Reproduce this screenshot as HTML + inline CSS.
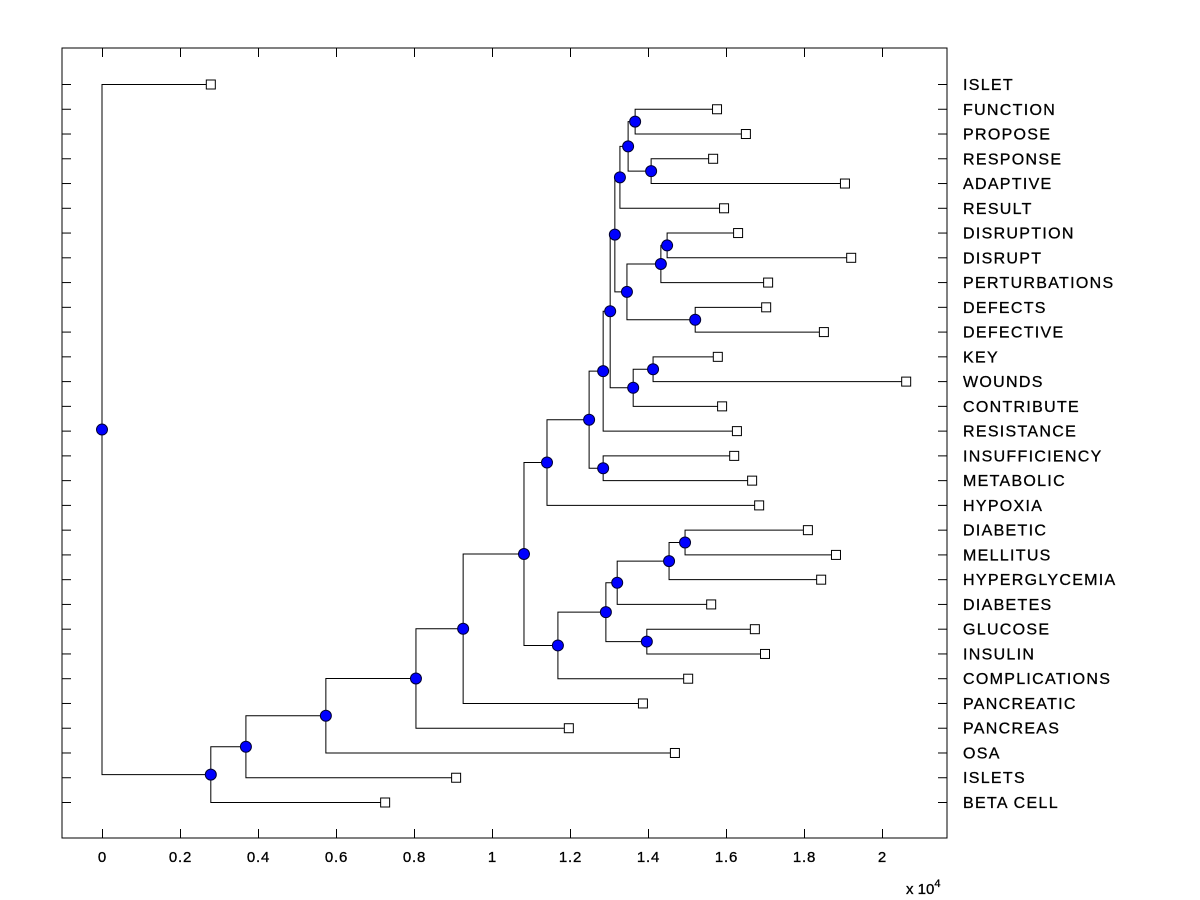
<!DOCTYPE html>
<html><head><meta charset="utf-8"><style>
html,body{margin:0;padding:0;background:#fff;}
svg{display:block;font-family:"Liberation Sans",Arial,sans-serif;}
</style></head><body>
<svg id="chart" width="1200" height="900" viewBox="0 0 1200 900"></svg>
<script>
const leafLabels=["ISLET","FUNCTION","PROPOSE","RESPONSE","ADAPTIVE","RESULT","DISRUPTION","DISRUPT","PERTURBATIONS","DEFECTS","DEFECTIVE","KEY","WOUNDS","CONTRIBUTE","RESISTANCE","INSUFFICIENCY","METABOLIC","HYPOXIA","DIABETIC","MELLITUS","HYPERGLYCEMIA","DIABETES","GLUCOSE","INSULIN","COMPLICATIONS","PANCREATIC","PANCREAS","OSA","ISLETS","BETA CELL"];
const leafValues=[0.279,1.577,1.651,1.567,1.905,1.595,1.631,1.921,1.708,1.703,1.851,1.579,2.062,1.590,1.628,1.621,1.667,1.685,1.810,1.882,1.844,1.562,1.674,1.700,1.503,1.387,1.197,1.469,0.908,0.726];
const mergeLeft=[1,3,30,32,6,34,9,35,33,11,39,38,41,15,42,44,18,46,47,22,48,50,45,52,53,54,55,56,0];
const mergeRight=[2,4,31,5,7,8,10,36,37,12,13,40,14,16,43,17,19,20,21,23,49,24,51,25,26,27,28,29,57];
const mergeHeights=[1.367,1.408,1.349,1.328,1.449,1.433,1.521,1.346,1.315,1.413,1.362,1.303,1.285,1.285,1.249,1.141,1.495,1.454,1.321,1.397,1.292,1.169,1.082,0.926,0.805,0.574,0.369,0.279,0];
const xTicks=[0,0.2,0.4,0.6,0.8,1,1.2,1.4,1.6,1.8,2];
const xTickLabels=["0","0.2","0.4","0.6","0.8","1","1.2","1.4","1.6","1.8","2"];

const NS="http://www.w3.org/2000/svg";
const svg=document.getElementById('chart');
const L=62,R=947,T=48,B=838;
const xs=v=>102+v*390;
const ys=i=>84+i*(802-84)/(leafLabels.length-1);
function mk(tag,attrs,parent){const e=document.createElementNS(NS,tag);for(const k in attrs)e.setAttribute(k,attrs[k]);(parent||svg).appendChild(e);return e;}

const frame=mk('rect',{x:L,y:T,width:R-L,height:B-T,fill:'#fff',stroke:'#000','stroke-width':1});



leafLabels.forEach((lab,i)=>{
  const y=ys(i)+0.5;
  const t1=mk('line',{x1:L,x2:L+9,y1:y,y2:y,stroke:'#000'});
  
  
  const t2=mk('line',{x1:R-9,x2:R,y1:y,y2:y,stroke:'#000'});
  
  
  const tx=mk('text',{x:963,y:ys(i)+6,'font-size':16,'letter-spacing':1.3,fill:'#000',stroke:'#000','stroke-width':0.3});
  tx.textContent=lab;
  
  
});
xTicks.forEach((v,i)=>{
  const x=Math.round(xs(v))+0.5;
  const a=mk('line',{x1:x,x2:x,y1:B-9,y2:B,stroke:'#000'});
  
  
  const b=mk('line',{x1:x,x2:x,y1:T,y2:T+9,stroke:'#000'});
  
  
  const tx=mk('text',{x:x,y:862,'font-size':15,'letter-spacing':0.8,'text-anchor':'middle',fill:'#000',stroke:'#000','stroke-width':0.3});
  tx.textContent=xTickLabels[i];
  
  
});
const ex=mk('text',{x:906,y:894,'font-size':15,fill:'#000',stroke:'#000','stroke-width':0.3});


ex.innerHTML='x 10<tspan dy="-7" font-size="11">4</tspan>';

const nodeX=leafValues.map(v=>xs(v));
const nodeY=leafLabels.map((_,i)=>ys(i));
const lines=mk('g',{stroke:'#000','stroke-width':1,fill:'none'});


const nodesG=[];
mergeHeights.forEach((h,k)=>{
  const a=mergeLeft[k],b=mergeRight[k];
  const x=xs(h),y=(nodeY[a]+nodeY[b])/2;
  const p=mk('path',{d:`M${nodeX[a]},${nodeY[a]+0.5}H${x}V${nodeY[b]+0.5}H${nodeX[b]}`},lines);
  
  
  nodeX.push(x);nodeY.push(y);nodesG.push([x,y]);
});
leafLabels.forEach((lab,i)=>{
  const s=mk('rect',{x:nodeX[i]-4.5,y:nodeY[i]-4,width:9,height:9,fill:'#fff',stroke:'#000'});
  
  
});
nodesG.forEach(([x,y])=>{
  const c=mk('circle',{cx:x,cy:y+0.5,r:5.5,fill:'#0000ff',stroke:'#000033','stroke-width':1});
  
  
});
</script>
</body></html>
